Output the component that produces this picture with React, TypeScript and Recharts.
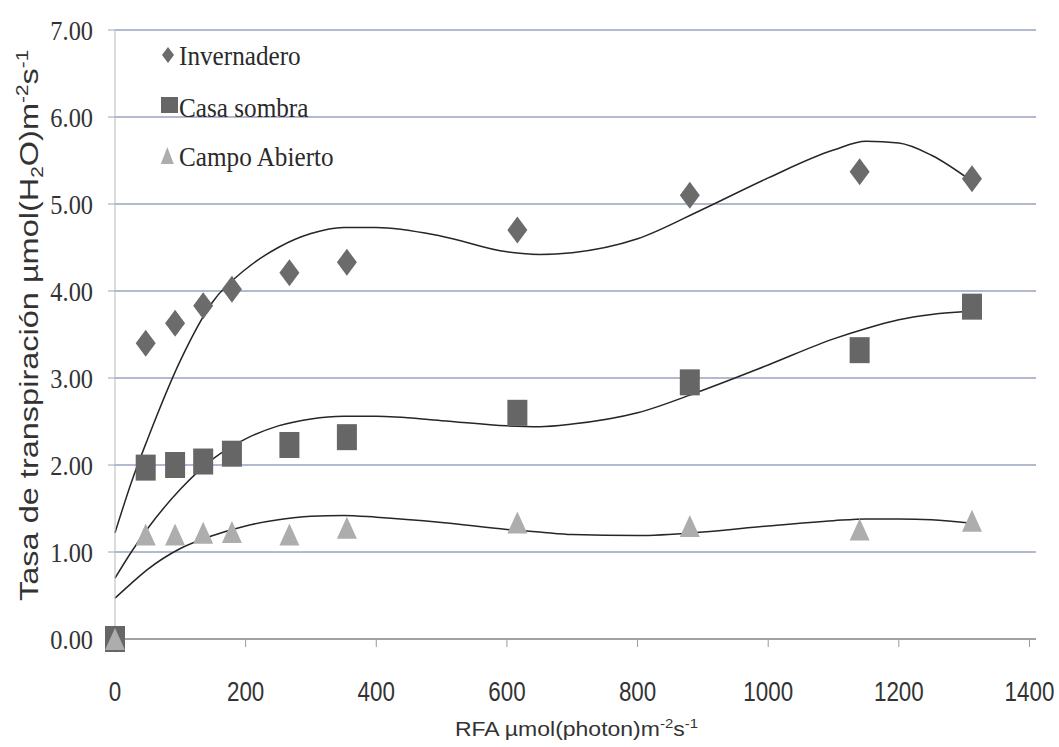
import React from 'react';
import { ComposedChart, Scatter, Line, XAxis, YAxis, CartesianGrid, Legend, Label } from 'recharts';

// RFA (µmol photon m-2 s-1) at which transpiration was measured
const rfa = [0, 47, 92, 135, 179, 267, 355, 616, 880, 1140, 1312];
const invernadero = [0, 3.4, 3.63, 3.83, 4.02, 4.21, 4.33, 4.7, 5.1, 5.37, 5.29];
const casaSombra = [0, 1.97, 2.0, 2.04, 2.13, 2.23, 2.32, 2.6, 2.95, 3.32, 3.82];
const campoAbierto = [0, 1.2, 1.2, 1.22, 1.23, 1.2, 1.28, 1.34, 1.3, 1.26, 1.36];

// trend curves
const trendX = [0, 25, 50, 100, 150, 200, 250, 300, 350, 400, 500, 600, 650, 700, 800, 900, 1000, 1100, 1150, 1200, 1250, 1312];
const invernaderoTrend = [1.22, 1.8, 2.3, 3.2, 3.88, 4.25, 4.5, 4.66, 4.73, 4.73, 4.63, 4.45, 4.42, 4.44, 4.6, 4.94, 5.3, 5.62, 5.72, 5.7, 5.56, 5.26];
const casaSombraTrend = [0.7, 1.0, 1.27, 1.72, 2.07, 2.3, 2.45, 2.53, 2.56, 2.56, 2.51, 2.45, 2.44, 2.47, 2.6, 2.86, 3.15, 3.45, 3.57, 3.67, 3.73, 3.77];
const campoAbiertoTrend = [0.47, 0.64, 0.8, 1.04, 1.19, 1.3, 1.37, 1.41, 1.42, 1.4, 1.34, 1.26, 1.23, 1.2, 1.19, 1.23, 1.3, 1.36, 1.38, 1.38, 1.37, 1.33];

const xTicks = [0, 200, 400, 600, 800, 1000, 1200, 1400];
const yTicks = [0, 1, 2, 3, 4, 5, 6, 7];
const seriesNames = ['Invernadero', 'Casa sombra', 'Campo Abierto'];

const toPoints = (xs: number[], ys: number[]) => xs.map((x, i) => ({ x, y: ys[i] }));

const DIAMOND = '#6b6b6b';
const SQUARE = '#666666';
const TRIANGLE = '#adadad';

const Diamond = (p: any) => {
  const { cx, cy } = p;
  return <polygon points={`${cx},${cy - 13.5} ${cx + 10},${cy} ${cx},${cy + 13.5} ${cx - 10},${cy}`} fill={DIAMOND} />;
};
const Square = (p: any) => {
  const { cx, cy } = p;
  return <rect x={cx - 10} y={cy - 13} width={20} height={26} fill={SQUARE} />;
};
const Triangle = (p: any) => {
  const { cx, cy } = p;
  return <polygon points={`${cx},${cy - 11} ${cx + 10},${cy + 11} ${cx - 10},${cy + 11}`} fill={TRIANGLE} />;
};

const XTick = (p: any) => {
  const { x, y, payload } = p;
  return (
    <text transform={`translate(${x},${y}) scale(0.8,1)`} y={52} textAnchor="middle" fontFamily="Liberation Sans" fontSize={28} fill="#333">
      {payload.value}
    </text>
  );
};

const YTick = (p: any) => {
  const { x, y, payload } = p;
  return (
    <text transform={`translate(${x},${y}) scale(0.87,1)`} y={9.5} textAnchor="end" fontFamily="Liberation Serif" fontSize={28} fill="#333">
      {Number(payload.value).toFixed(2)}
    </text>
  );
};

const YTitle = (p: any) => {
  const vb = p.viewBox || { x: 0, y: 30, width: 115, height: 609 };
  const cx = vb.x + 38;
  const cy = vb.y + vb.height * 0.485;
  return (
    <text transform={`translate(${cx},${cy}) rotate(-90) scale(1.3,1)`} textAnchor="middle" fontFamily="Liberation Sans" fontSize={25} fill="#333">
      Tasa de transpiración µmol(H<tspan fontSize={16} dy={5}>2</tspan>
      <tspan dy={-5}>O)m</tspan>
      <tspan fontSize={16} dy={-10}>-2</tspan>
      <tspan dy={10}>s</tspan>
      <tspan fontSize={16} dy={-10}>-1</tspan>
    </text>
  );
};

const XTitle = (p: any) => {
  const vb = p.viewBox || { x: 115, y: 639, width: 920, height: 108 };
  const cx = vb.x + vb.width / 2 + 1;
  const cy = vb.y + 97;
  return (
    <text transform={`translate(${cx},${cy}) scale(1.15,1)`} textAnchor="middle" fontFamily="Liberation Sans" fontSize={20} fill="#333">
      RFA µmol(photon)m<tspan fontSize={13} dy={-8}>-2</tspan>
      <tspan dy={8}>s</tspan>
      <tspan fontSize={13} dy={-8}>-1</tspan>
    </text>
  );
};

const legendMarkers = [
  (cx: number, cy: number) => <polygon points={`${cx},${cy - 8} ${cx + 6},${cy} ${cx},${cy + 8} ${cx - 6},${cy}`} fill={DIAMOND} />,
  (cx: number, cy: number) => <rect x={cx - 8.5} y={cy - 8} width={17} height={16} fill={SQUARE} />,
  (cx: number, cy: number) => <polygon points={`${cx},${cy - 8.5} ${cx + 6.5},${cy + 8.5} ${cx - 6.5},${cy + 8.5}`} fill={TRIANGLE} />,
];
const legendRows = [
  { mx: 18, my: 25, ty: 35 },
  { mx: 19.5, my: 75, ty: 87 },
  { mx: 17.3, my: 125.5, ty: 136 },
];

const LegendBox = () => (
  <svg width={260} height={150} style={{ display: 'block' }}>
    {seriesNames.map((name, i) => (
      <g key={name}>
        {legendMarkers[i](legendRows[i].mx, legendRows[i].my)}
        <text transform={`translate(29,${legendRows[i].ty}) scale(0.9,1)`} fontFamily="Liberation Serif" fontSize={28} fill="#2a2a2a">
          {name}
        </text>
      </g>
    ))}
  </svg>
);

export default function App() {
  return (
    <div style={{ position: 'absolute', left: 0, top: 0, width: 1059, height: 747, background: '#ffffff' }}>
      <ComposedChart width={1059} height={747} margin={{ top: 30, right: 23, bottom: 0, left: 0 }}>
        <CartesianGrid vertical={false} stroke="#9aa3bf" strokeWidth={1.3} />
        <XAxis
          type="number"
          dataKey="x"
          domain={[0, 1410]}
          ticks={xTicks}
          interval={0}
          height={108}
          axisLine={{ stroke: '#9a9a9a', strokeWidth: 1.3 }}
          tickLine={{ stroke: '#9a9a9a' }}
          tickSize={8}
          tick={<XTick />}
        >
          <Label content={<XTitle />} />
        </XAxis>
        <YAxis
          type="number"
          dataKey="y"
          domain={[0, 7]}
          ticks={yTicks}
          interval={0}
          width={115}
          axisLine={{ stroke: '#b8b8b8' }}
          tickLine={{ stroke: '#9aa3bf' }}
          tickSize={7}
          tickMargin={15}
          tick={<YTick />}
        >
          <Label content={<YTitle />} />
        </YAxis>
        <Legend
          layout="vertical"
          align="center"
          verticalAlign="middle"
          wrapperStyle={{ left: 150, top: 30, width: 260, height: 150 }}
          content={() => <LegendBox />}
        />
        <Scatter name={seriesNames[0]} data={toPoints(rfa, invernadero)} shape={Diamond} isAnimationActive={false} />
        <Scatter name={seriesNames[1]} data={toPoints(rfa, casaSombra)} shape={Square} isAnimationActive={false} />
        <Scatter name={seriesNames[2]} data={toPoints(rfa, campoAbierto)} shape={Triangle} isAnimationActive={false} />
        <Line data={toPoints(trendX, invernaderoTrend)} dataKey="y" type="monotone" stroke="#262626" strokeWidth={1.5} dot={false} activeDot={false} legendType="none" isAnimationActive={false} />
        <Line data={toPoints(trendX, casaSombraTrend)} dataKey="y" type="monotone" stroke="#262626" strokeWidth={1.5} dot={false} activeDot={false} legendType="none" isAnimationActive={false} />
        <Line data={toPoints(trendX, campoAbiertoTrend)} dataKey="y" type="monotone" stroke="#262626" strokeWidth={1.5} dot={false} activeDot={false} legendType="none" isAnimationActive={false} />
      </ComposedChart>
    </div>
  );
}
